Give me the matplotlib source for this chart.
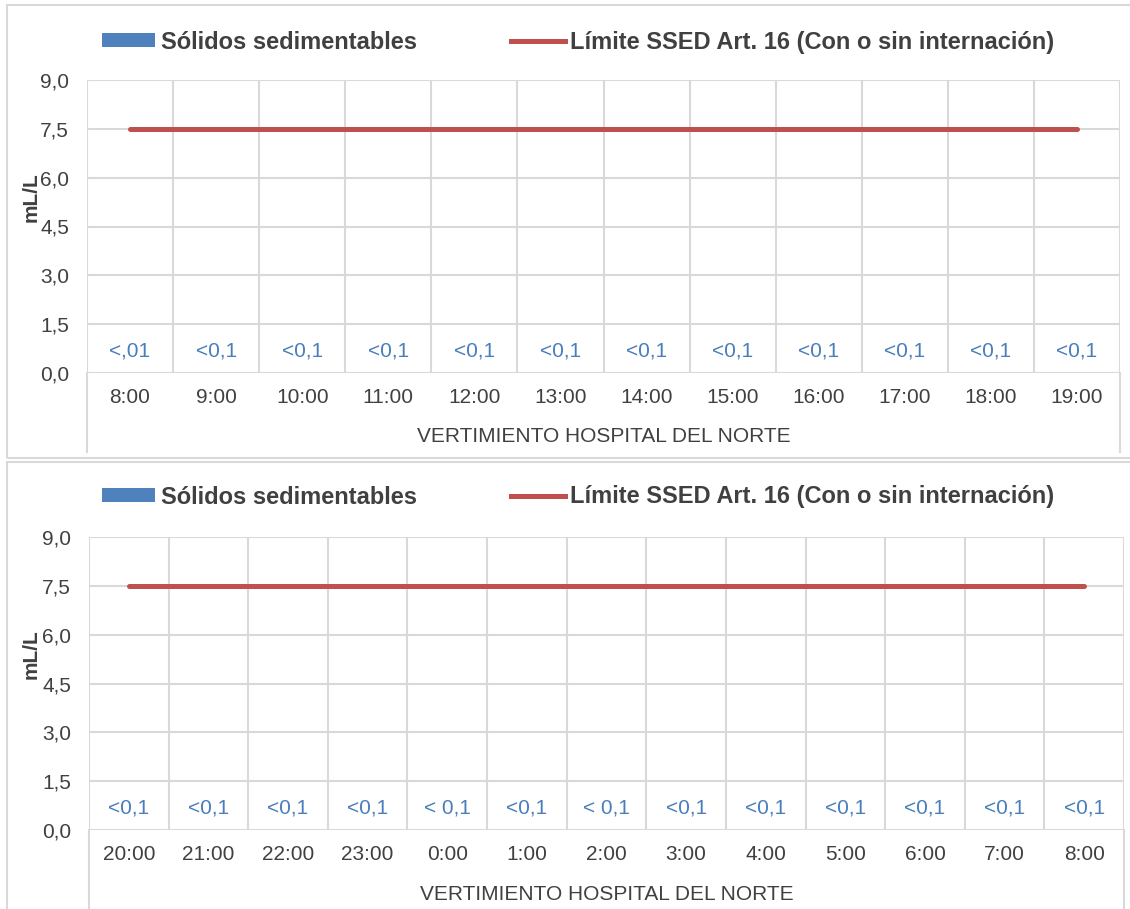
import matplotlib
matplotlib.use("Agg")
import matplotlib.pyplot as plt
from matplotlib.patches import Rectangle, Patch
from matplotlib.lines import Line2D

plt.rcParams['font.family'] = ['Liberation Sans', 'DejaVu Sans']

# data
horas_1 = ['8:00', '9:00', '10:00', '11:00', '12:00', '13:00', '14:00',
           '15:00', '16:00', '17:00', '18:00', '19:00']
ssed_1 = [0, 0, 0, 0, 0, 0, 0, 0, 0, 0, 0, 0]
etiq_1 = ['<,01', '<0,1', '<0,1', '<0,1', '<0,1', '<0,1', '<0,1',
          '<0,1', '<0,1', '<0,1', '<0,1', '<0,1']

horas_2 = ['20:00', '21:00', '22:00', '23:00', '0:00', '1:00', '2:00',
           '3:00', '4:00', '5:00', '6:00', '7:00', '8:00']
ssed_2 = [0, 0, 0, 0, 0, 0, 0, 0, 0, 0, 0, 0, 0]
etiq_2 = ['<0,1', '<0,1', '<0,1', '<0,1', '< 0,1', '<0,1', '< 0,1',
          '<0,1', '<0,1', '<0,1', '<0,1', '<0,1', '<0,1']

limite = 7.5
yticks = [0, 1.5, 3, 4.5, 6, 7.5, 9]

W, H = 1130, 909
BLUE = '#4f81bd'
RED = '#c0504d'
GRID = '#d9d9d9'
TXT = '#404040'

fig = plt.figure(figsize=(W / 100, H / 100), dpi=100)

# panel borders
fig.add_artist(Rectangle((7 / W, 1 - 458 / H), 1140 / W, 453 / H,
                         transform=fig.transFigure, fill=False,
                         edgecolor=GRID, lw=1.5))
fig.add_artist(Rectangle((7 / W, 1 - 920 / H), 1140 / W, 458 / H,
                         transform=fig.transFigure, fill=False,
                         edgecolor=GRID, lw=1.5))


def panel(x0, x1, ytop, y0, horas, valores, etiquetas, leg_y):
    ax = fig.add_axes([x0 / W, 1 - y0 / H, (x1 - x0) / W, (y0 - ytop) / H])
    n = len(horas)
    x = list(range(n))
    ax.bar(x, valores, width=0.55, color=BLUE)
    ax.plot(x, [limite] * n, color=RED, lw=3.6, solid_capstyle='round')
    for xi, v, t in zip(x, valores, etiquetas):
        ax.annotate(t, (xi, v), xytext=(0, 16), textcoords='offset points',
                    ha='center', va='center', color='#4a7ebb', fontsize=15)
    ax.set_xlim(-0.5, n - 0.5)
    ax.set_ylim(0, 9)
    ax.set_yticks(yticks)
    ax.set_yticklabels([f'{v:.1f}'.replace('.', ',') for v in yticks])
    ax.set_xticks(x)
    ax.set_xticklabels(horas)
    ax.set_xticks([i - 0.5 for i in range(n + 1)], minor=True)
    ax.grid(True, axis='y', color=GRID, lw=1.5)
    ax.grid(True, axis='x', which='minor', color=GRID, lw=1.5)
    ax.set_axisbelow(True)
    for s in ax.spines.values():
        s.set_visible(False)
    ax.tick_params(axis='both', which='both', length=0, colors=TXT,
                   labelsize=15)
    ax.tick_params(axis='y', pad=13)
    ax.tick_params(axis='x', pad=11)
    # extension of the outer category lines below the axis
    depth = 79 / (y0 - ytop)
    tr = ax.get_xaxis_transform()
    for xe in (-0.5, n - 0.5):
        ax.plot([xe, xe], [0, -depth], transform=tr, color=GRID, lw=1.5,
                clip_on=False)
    ax.set_ylabel('mL/L', fontsize=15, fontweight='bold', color=TXT)
    ax.yaxis.set_label_coords(-(x0 - 41) / (x1 - x0), 0.6)
    ax.set_xlabel('VERTIMIENTO HOSPITAL DEL NORTE', fontsize=15, color=TXT)
    ax.xaxis.set_label_coords(0.5, -64 / (y0 - ytop))
    ax.xaxis.label.set_va('center')
    handles = [Patch(facecolor=BLUE, edgecolor='none'),
               Line2D([], [], color=RED, lw=3.6)]
    ax.legend(handles, ['Sólidos sedimentables',
                        'Límite SSED Art. 16 (Con o sin internación)'],
              ncol=2, loc='center left', frameon=False,
              bbox_to_anchor=((102 - x0) / (x1 - x0),
                              (y0 - leg_y) / (y0 - ytop)),
              prop={'weight': 'bold', 'size': 17},
              handlelength=2.25, handleheight=0.5, handletextpad=0.25,
              columnspacing=4.0, borderpad=0, borderaxespad=0,
              labelcolor=TXT)
    return ax


panel(87, 1120, 80, 373, horas_1, ssed_1, etiq_1, 42)
panel(89, 1124, 537, 830, horas_2, ssed_2, etiq_2, 497)

fig.savefig('out.png', dpi=100)
